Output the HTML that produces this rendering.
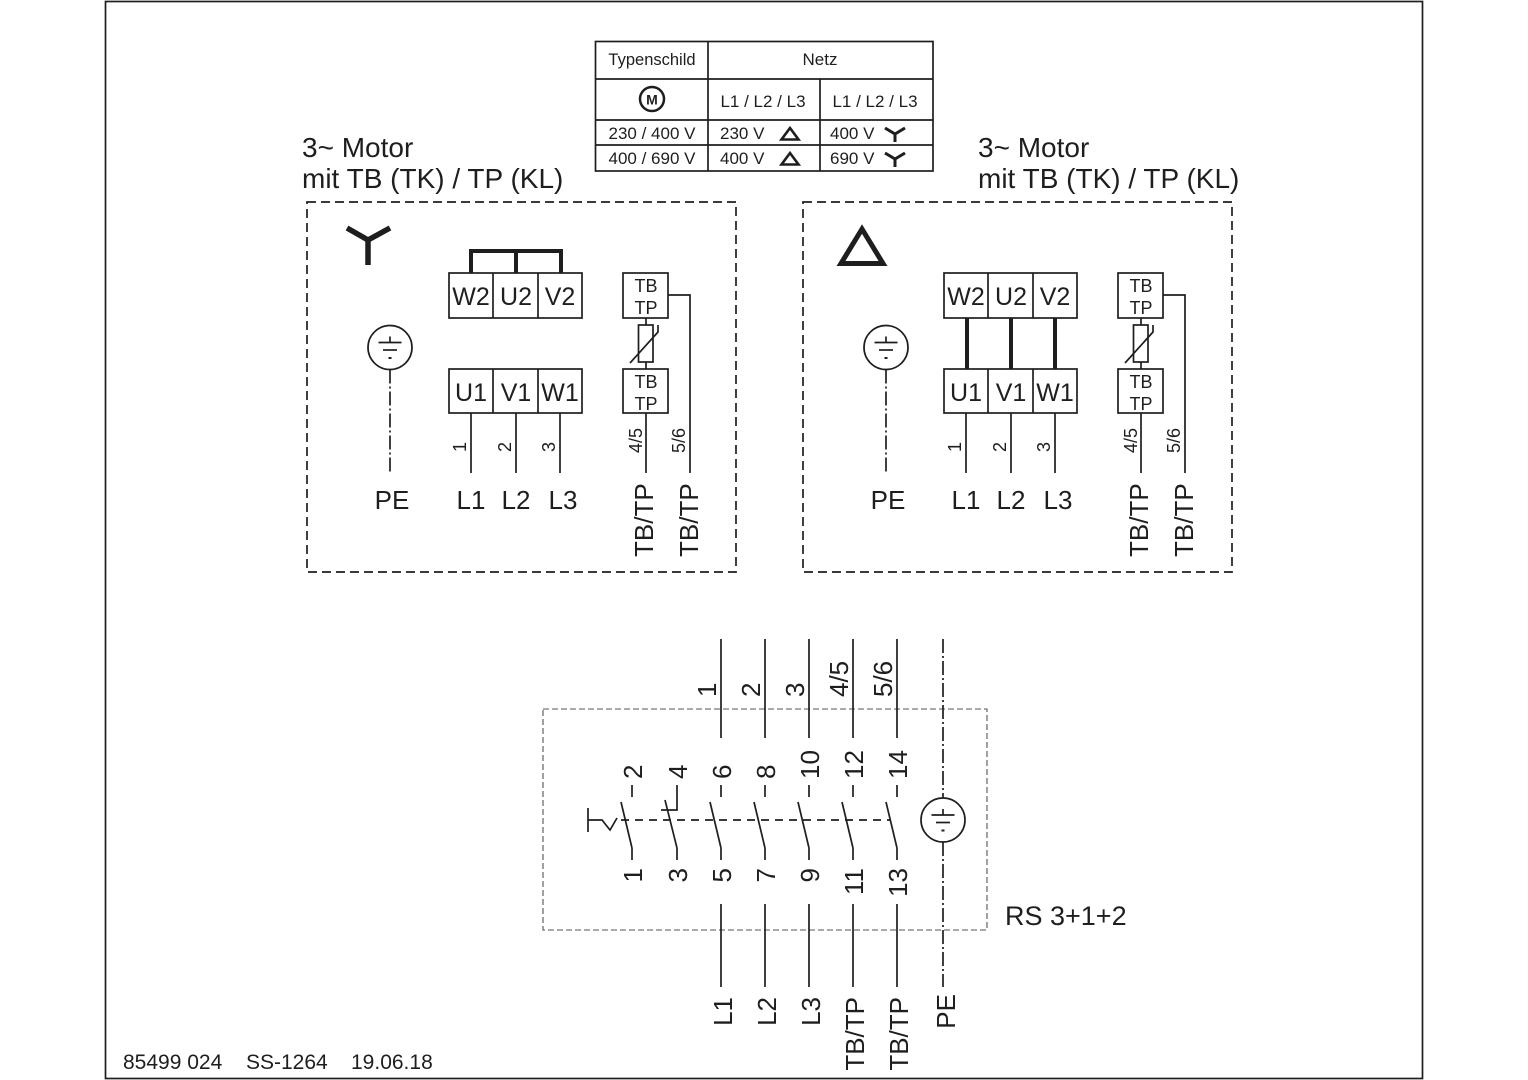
<!DOCTYPE html>
<html><head><meta charset="utf-8"><style>
html,body{margin:0;padding:0;background:#fff;}
svg{display:block;}
text{font-family:"Liberation Sans",Arial,sans-serif;fill:#1e1e1e;}
</style></head><body>
<svg width="1528" height="1080" viewBox="0 0 1528 1080" xmlns="http://www.w3.org/2000/svg">
<rect x="0" y="0" width="1528" height="1080" fill="#fff"/>
<g fill="none" stroke="#1e1e1e" stroke-width="1.7">
<rect x="105.5" y="1.5" width="1317" height="1077"/>
<!-- table -->
<rect x="595.5" y="41.5" width="337.5" height="129.5"/>
<line x1="708" y1="41.5" x2="708" y2="171"/>
<line x1="820" y1="79" x2="820" y2="171"/>
<line x1="595.5" y1="79" x2="933" y2="79"/>
<line x1="595.5" y1="120" x2="933" y2="120"/>
<line x1="595.5" y1="145" x2="933" y2="145"/>
<circle cx="652" cy="99" r="12" stroke-width="2.5"/>
<polygon points="781.5,139.5 798.5,139.5 790,128" stroke-width="2.6"/>
<polygon points="781.5,164.5 798.5,164.5 790,153" stroke-width="2.6"/>
<polyline points="885,128 895,134 905,128" stroke-width="3"/>
<line x1="895" y1="134" x2="895" y2="142" stroke-width="3"/>
<polyline points="885,153 895,159 905,153" stroke-width="3"/>
<line x1="895" y1="159" x2="895" y2="167" stroke-width="3"/>

<!-- LEFT BOX -->
<rect x="307" y="202" width="429" height="370" stroke-dasharray="9 5"/>
<polyline points="347,228 368,240 390,228" stroke-width="5.5"/>
<line x1="368" y1="240" x2="368" y2="265" stroke-width="5.5"/>
<rect x="449" y="273" width="133" height="45"/>
<line x1="493" y1="273" x2="493" y2="318"/><line x1="538" y1="273" x2="538" y2="318"/>
<path d="M471,273 V251 H561 V273 M516,251 V273" stroke-width="4"/>
<rect x="449" y="369" width="133" height="44"/>
<line x1="493" y1="369" x2="493" y2="413"/><line x1="538" y1="369" x2="538" y2="413"/>
<line x1="471" y1="413" x2="471" y2="473"/>
<line x1="516" y1="413" x2="516" y2="473"/>
<line x1="560" y1="413" x2="560" y2="473"/>
<rect x="623" y="273" width="45" height="45"/>
<rect x="623" y="369" width="45" height="44"/>
<line x1="646" y1="318" x2="646" y2="325"/>
<rect x="638.5" y="325" width="14.5" height="37"/>
<line x1="646" y1="362" x2="646" y2="369"/>
<polyline points="630,363 658,332 658,325"/>
<polyline points="668,295 690,295 690,473"/>
<line x1="646" y1="413" x2="646" y2="473"/>
<circle cx="390" cy="347.5" r="22"/>
<line x1="390" y1="336.5" x2="390" y2="342.5"/>
<line x1="378.5" y1="342.5" x2="401.5" y2="342.5"/>
<line x1="383" y1="350" x2="397" y2="350"/>
<line x1="388.5" y1="358" x2="391.5" y2="358" stroke-width="2"/>
<line x1="390" y1="369.5" x2="390" y2="473" stroke-dasharray="14 3 2 3"/>

<!-- RIGHT BOX -->
<rect x="803" y="202" width="429" height="370" stroke-dasharray="9 5"/>
<polygon points="841,263.5 883,263.5 862,229" stroke-width="5"/>
<rect x="944" y="273" width="133" height="45"/>
<line x1="988" y1="273" x2="988" y2="318"/><line x1="1033" y1="273" x2="1033" y2="318"/>
<rect x="944" y="369" width="133" height="44"/>
<line x1="988" y1="369" x2="988" y2="413"/><line x1="1033" y1="369" x2="1033" y2="413"/>
<line x1="967" y1="318" x2="967" y2="369" stroke-width="4"/>
<line x1="1011" y1="318" x2="1011" y2="369" stroke-width="4"/>
<line x1="1055" y1="318" x2="1055" y2="369" stroke-width="4"/>
<line x1="966" y1="413" x2="966" y2="473"/>
<line x1="1011" y1="413" x2="1011" y2="473"/>
<line x1="1055" y1="413" x2="1055" y2="473"/>
<rect x="1118" y="273" width="45" height="45"/>
<rect x="1118" y="369" width="45" height="44"/>
<line x1="1141" y1="318" x2="1141" y2="325"/>
<rect x="1133.5" y="325" width="14.5" height="37"/>
<line x1="1141" y1="362" x2="1141" y2="369"/>
<polyline points="1125,363 1153,332 1153,325"/>
<polyline points="1163,295 1185,295 1185,473"/>
<line x1="1141" y1="413" x2="1141" y2="473"/>
<circle cx="886" cy="347.5" r="22"/>
<line x1="886" y1="336.5" x2="886" y2="342.5"/>
<line x1="874.5" y1="342.5" x2="897.5" y2="342.5"/>
<line x1="879" y1="350" x2="893" y2="350"/>
<line x1="884.5" y1="358" x2="887.5" y2="358" stroke-width="2"/>
<line x1="886" y1="369.5" x2="886" y2="473" stroke-dasharray="14 3 2 3"/>

<!-- BOTTOM SWITCH -->
<rect x="543" y="709" width="444" height="221" stroke="#555" stroke-width="1.1" stroke-dasharray="6 3"/>
<line x1="721" y1="639" x2="721" y2="738"/>
<line x1="765" y1="639" x2="765" y2="738"/>
<line x1="809" y1="639" x2="809" y2="738"/>
<line x1="853" y1="639" x2="853" y2="738"/>
<line x1="897" y1="639" x2="897" y2="738"/>
<line x1="721" y1="904" x2="721" y2="987"/>
<line x1="765" y1="904" x2="765" y2="987"/>
<line x1="809" y1="904" x2="809" y2="987"/>
<line x1="853" y1="904" x2="853" y2="987"/>
<line x1="897" y1="904" x2="897" y2="987"/>
<line x1="943" y1="639" x2="943" y2="798" stroke-dasharray="14 3 2 3"/>
<line x1="943" y1="842" x2="943" y2="987" stroke-dasharray="14 3 2 3"/>
<circle cx="943" cy="820" r="22"/>
<line x1="943" y1="809" x2="943" y2="815"/>
<line x1="931.5" y1="815" x2="954.5" y2="815"/>
<line x1="936" y1="822.5" x2="950" y2="822.5"/>
<line x1="941.5" y1="830.5" x2="944.5" y2="830.5" stroke-width="2"/>
<!-- actuator -->
<line x1="588" y1="808" x2="588" y2="832"/>
<polyline points="588,820 602,820 610,830 617,818"/>
<line x1="621" y1="820" x2="890" y2="820" stroke-dasharray="8 6"/>
<!-- contact 1-2 -->
<line x1="632" y1="785" x2="632" y2="797"/>
<line x1="621" y1="802" x2="632" y2="848"/>
<line x1="632" y1="848" x2="632" y2="860"/>
<!-- contact 3-4 NC -->
<polyline points="677,785 677,810 661,810"/>
<line x1="665" y1="800" x2="677" y2="848"/>
<line x1="677" y1="848" x2="677" y2="860"/>
<!-- contacts 5..14 -->
<line x1="721" y1="785" x2="721" y2="797"/><line x1="710" y1="802" x2="721" y2="848"/><line x1="721" y1="848" x2="721" y2="860"/>
<line x1="765" y1="785" x2="765" y2="797"/><line x1="754" y1="802" x2="765" y2="848"/><line x1="765" y1="848" x2="765" y2="860"/>
<line x1="809" y1="785" x2="809" y2="797"/><line x1="798" y1="802" x2="809" y2="848"/><line x1="809" y1="848" x2="809" y2="860"/>
<line x1="853" y1="785" x2="853" y2="797"/><line x1="842" y1="802" x2="853" y2="848"/><line x1="853" y1="848" x2="853" y2="860"/>
<line x1="897" y1="785" x2="897" y2="797"/><line x1="886" y1="802" x2="897" y2="848"/><line x1="897" y1="848" x2="897" y2="860"/>
</g>

<!-- TEXT -->
<g font-size="17">
<text x="652" y="65" text-anchor="middle" font-size="16.5">Typenschild</text>
<text x="820" y="65" text-anchor="middle">Netz</text>
<text x="652" y="104.5" text-anchor="middle" font-weight="bold" font-size="14">M</text>
<text x="763" y="107" text-anchor="middle">L1 / L2 / L3</text>
<text x="875" y="107" text-anchor="middle">L1 / L2 / L3</text>
<text x="652" y="139" text-anchor="middle">230 / 400 V</text>
<text x="720" y="139">230 V</text>
<text x="830" y="139">400 V</text>
<text x="652" y="164" text-anchor="middle">400 / 690 V</text>
<text x="720" y="164">400 V</text>
<text x="830" y="164">690 V</text>
</g>

<g font-size="28">
<text x="302" y="157">3~ Motor</text>
<text x="302" y="188">mit TB (TK) / TP (KL)</text>
<text x="978" y="157">3~ Motor</text>
<text x="978" y="188">mit TB (TK) / TP (KL)</text>
</g>

<g font-size="25" text-anchor="middle">
<text x="471" y="305">W2</text><text x="516" y="305">U2</text><text x="560" y="305">V2</text>
<text x="471" y="401">U1</text><text x="516" y="401">V1</text><text x="560" y="401">W1</text>
<text x="966" y="305">W2</text><text x="1011" y="305">U2</text><text x="1055" y="305">V2</text>
<text x="966" y="401">U1</text><text x="1011" y="401">V1</text><text x="1055" y="401">W1</text>
</g>
<g font-size="18" text-anchor="middle">
<text x="646" y="292">TB</text><text x="646" y="314">TP</text>
<text x="646" y="388">TB</text><text x="646" y="410">TP</text>
<text x="1141" y="292">TB</text><text x="1141" y="314">TP</text>
<text x="1141" y="388">TB</text><text x="1141" y="410">TP</text>
</g>
<g font-size="18">
<text transform="translate(466,452) rotate(-90)">1</text>
<text transform="translate(511,452) rotate(-90)">2</text>
<text transform="translate(555,452) rotate(-90)">3</text>
<text transform="translate(642,453) rotate(-90)">4/5</text>
<text transform="translate(685,453) rotate(-90)">5/6</text>
<text transform="translate(961,452) rotate(-90)">1</text>
<text transform="translate(1006,452) rotate(-90)">2</text>
<text transform="translate(1050,452) rotate(-90)">3</text>
<text transform="translate(1137,453) rotate(-90)">4/5</text>
<text transform="translate(1180,453) rotate(-90)">5/6</text>
</g>
<g font-size="26" text-anchor="middle">
<text x="392" y="509">PE</text><text x="471" y="509">L1</text><text x="516" y="509">L2</text><text x="563" y="509">L3</text>
<text x="888" y="509">PE</text><text x="966" y="509">L1</text><text x="1011" y="509">L2</text><text x="1058" y="509">L3</text>
</g>
<g font-size="26">
<text transform="translate(653,557) rotate(-90)">TB/TP</text>
<text transform="translate(698,557) rotate(-90)">TB/TP</text>
<text transform="translate(1148,557) rotate(-90)">TB/TP</text>
<text transform="translate(1193,557) rotate(-90)">TB/TP</text>

<text transform="translate(716,697) rotate(-90)">1</text>
<text transform="translate(760,697) rotate(-90)">2</text>
<text transform="translate(804,697) rotate(-90)">3</text>
<text transform="translate(848,697) rotate(-90)">4/5</text>
<text transform="translate(892,697) rotate(-90)">5/6</text>

<text transform="translate(642,779) rotate(-90)">2</text>
<text transform="translate(687,779) rotate(-90)">4</text>
<text transform="translate(731,779) rotate(-90)">6</text>
<text transform="translate(775,779) rotate(-90)">8</text>
<text transform="translate(819,779) rotate(-90)">10</text>
<text transform="translate(863,779) rotate(-90)">12</text>
<text transform="translate(907,779) rotate(-90)">14</text>

<g text-anchor="end">
<text transform="translate(642,868) rotate(-90)">1</text>
<text transform="translate(687,868) rotate(-90)">3</text>
<text transform="translate(731,868) rotate(-90)">5</text>
<text transform="translate(775,868) rotate(-90)">7</text>
<text transform="translate(819,868) rotate(-90)">9</text>
<text transform="translate(863,868) rotate(-90)">11</text>
<text transform="translate(907,868) rotate(-90)">13</text>

<text transform="translate(732,997) rotate(-90)">L1</text>
<text transform="translate(776,997) rotate(-90)">L2</text>
<text transform="translate(820,997) rotate(-90)">L3</text>
<text transform="translate(864,997) rotate(-90)">TB/TP</text>
<text transform="translate(908,997) rotate(-90)">TB/TP</text>
<text transform="translate(955,994) rotate(-90)">PE</text>
</g>
</g>
<text x="1005" y="925" font-size="27">RS 3+1+2</text>
<g font-size="21">
<text x="123" y="1069">85499 024</text>
<text x="246" y="1069">SS-1264</text>
<text x="351" y="1069">19.06.18</text>
</g>
</svg>
</body></html>
